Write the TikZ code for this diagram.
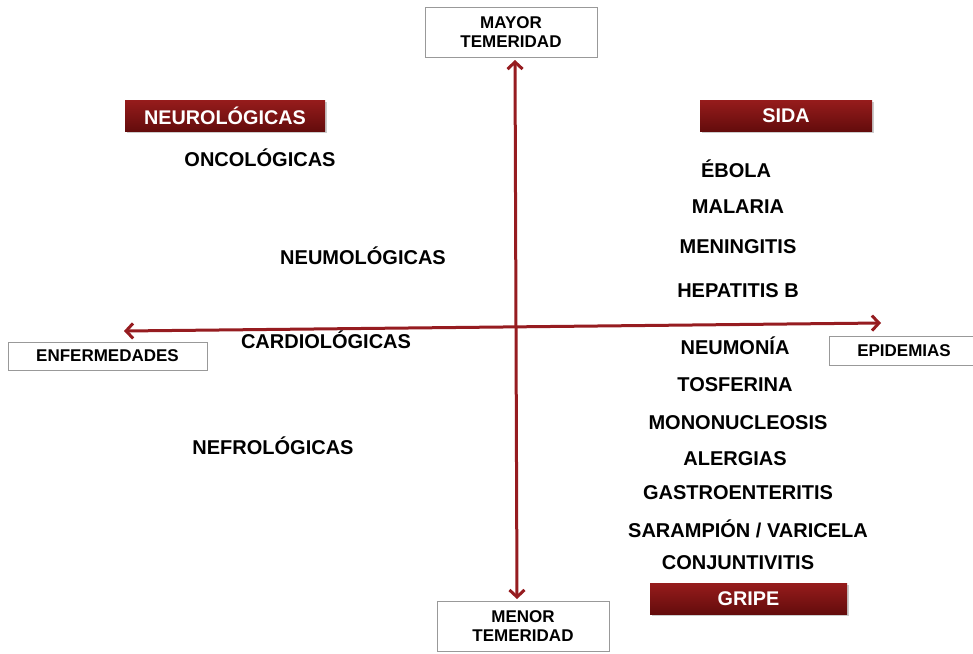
\documentclass[tikz,border=0pt]{standalone}
\usepackage{fontspec}
\setmainfont{Liberation Sans}
\usetikzlibrary{arrows.meta,shadows}

\definecolor{axisred}{RGB}{150,28,32}
\definecolor{boxtop}{RGB}{150,28,28}
\definecolor{boxbot}{RGB}{100,12,12}

\tikzset{
  label/.style={font=\bfseries\fontsize{20}{22}\selectfont, inner sep=0pt},
  graybox/.style={draw=gray!80, line width=0.8pt, fill=white, align=center,
    font=\bfseries\fontsize{17}{19}\selectfont, inner sep=0pt},
  redbox/.style={top color=boxtop, bottom color=boxbot, text=white,
    font=\bfseries\fontsize{19.8}{21}\selectfont, inner sep=0pt,
    drop shadow={shadow xshift=1.5pt, shadow yshift=-1.5pt, opacity=0.4}},
  axis/.style={draw=axisred, line width=3pt, {Straight Barb[length=7pt,width=15pt]}-{Straight Barb[length=7pt,width=15pt]}}
}

\begin{document}
\begin{tikzpicture}[x=1pt,y=-1pt]
	\useasboundingbox[fill=white] (0,0) rectangle (973,653);

	% ends of the two axes
	\coordinate (top) at (515,60);
	\coordinate (bottom) at (517,599);
	\coordinate (left) at (124,331);
	\coordinate (right) at (881,323);

	\path[axis] (top) -- (bottom);
	\path[axis] (left) -- (right);

	% axis boxes
	\node[graybox, minimum width=172, minimum height=50] (mayor) at (511,32) {MAYOR\\TEMERIDAD};
	\node[graybox, minimum width=172, minimum height=50] (menor) at (523,626) {MENOR\\TEMERIDAD};
	\node[graybox, minimum width=199, minimum height=28] (enfermedades) at (107.5,356) {ENFERMEDADES};
	\node[graybox, minimum width=150, minimum height=29] (epidemias) at (904,350.5) {EPIDEMIAS};

	% highlighted boxes
	\node[redbox, minimum width=200, minimum height=31] (neuro) at (225,115.5) {NEUROLÓGICAS};
	\node[redbox, minimum width=172, minimum height=31] (sida) at (786,115.5) {SIDA};
	\node[redbox, minimum width=197, minimum height=31] (gripe) at (748.5,598.5) {GRIPE};

	% left side
	\node[label] (onco) at (260,158) {ONCOLÓGICAS};
	\node[label] (neumo) at (363,256) {NEUMOLÓGICAS};
	\node[label] (cardio) at (326,340) {CARDIOLÓGICAS};
	\node[label] (nefro) at (273,446) {NEFROLÓGICAS};

	% right side
	\node[label] (ebola) at (736,169) {ÉBOLA};
	\node[label] (malaria) at (738,207) {MALARIA};
	\node[label] (meningitis) at (738,247) {MENINGITIS};
	\node[label] (hepatitis) at (738,291) {HEPATITIS B};
	\node[label] (neumonia) at (735,346) {NEUMONÍA};
	\node[label] (tosferina) at (735,385) {TOSFERINA};
	\node[label] (mono) at (738,423) {MONONUCLEOSIS};
	\node[label] (alergias) at (735,459) {ALERGIAS};
	\node[label] (gastro) at (738,493) {GASTROENTERITIS};
	\node[label] (saram) at (748,529) {SARAMPIÓN / VARICELA};
	\node[label] (conj) at (738,563) {CONJUNTIVITIS};
\end{tikzpicture}
\end{document}
